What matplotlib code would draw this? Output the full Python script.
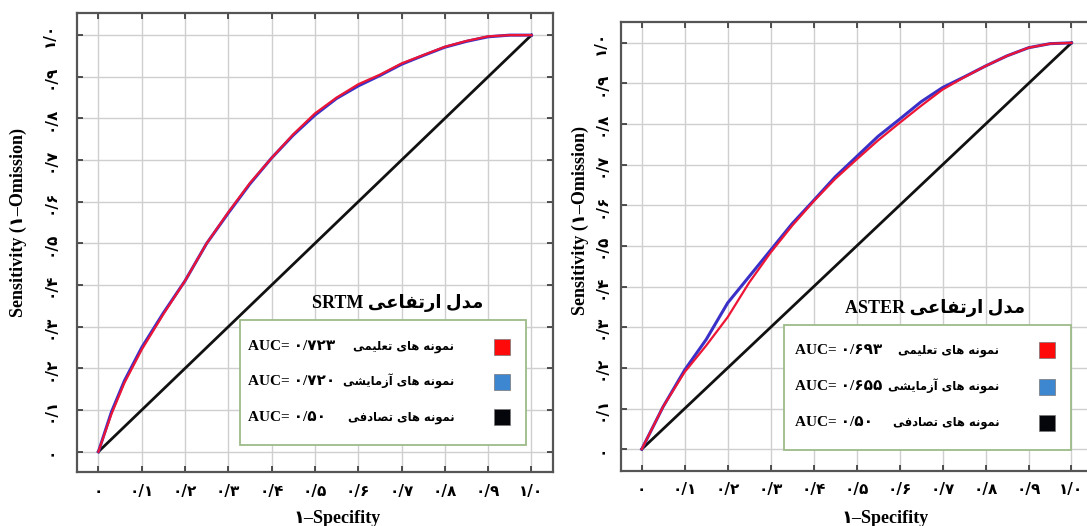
import matplotlib
matplotlib.use('Agg')
import matplotlib.pyplot as plt

# ---------------- data ----------------
fpr_srtm = [0.0, 0.03, 0.06, 0.10, 0.15, 0.20, 0.25, 0.30, 0.35, 0.40, 0.45,
            0.50, 0.55, 0.60, 0.65, 0.70, 0.75, 0.80, 0.85, 0.90, 0.95, 1.0]
tpr_srtm_train = [0.0, 0.09, 0.165, 0.245, 0.33, 0.41, 0.50, 0.575, 0.645, 0.705, 0.762,
                  0.812, 0.85, 0.882, 0.905, 0.932, 0.952, 0.972, 0.986, 0.997, 1.0, 1.0]
tpr_srtm_test = [0.0, 0.095, 0.17, 0.25, 0.333, 0.41, 0.50, 0.573, 0.643, 0.705, 0.76,
                 0.808, 0.848, 0.878, 0.903, 0.93, 0.951, 0.971, 0.985, 0.996, 1.0, 1.0]

fpr_aster = [0.0, 0.05, 0.10, 0.15, 0.20, 0.25, 0.30, 0.35, 0.40, 0.45, 0.50,
             0.55, 0.60, 0.65, 0.70, 0.75, 0.80, 0.85, 0.90, 0.95, 1.0]
tpr_aster_train = [0.0, 0.105, 0.19, 0.255, 0.325, 0.41, 0.484, 0.55, 0.61, 0.665, 0.713,
                   0.76, 0.803, 0.845, 0.885, 0.915, 0.943, 0.968, 0.988, 0.998, 1.0]
tpr_aster_test = [0.0, 0.105, 0.195, 0.27, 0.36, 0.425, 0.49, 0.555, 0.612, 0.67, 0.72,
                  0.77, 0.812, 0.855, 0.89, 0.916, 0.943, 0.968, 0.988, 0.998, 1.0]

random_x = [0.0, 1.0]
random_y = [0.0, 1.0]

tick_values = [0.0, 0.1, 0.2, 0.3, 0.4, 0.5, 0.6, 0.7, 0.8, 0.9, 1.0]
tick_labels = ['۰', '۰/۱', '۰/۲', '۰/۳', '۰/۴', '۰/۵', '۰/۶', '۰/۷', '۰/۸', '۰/۹', '۱/۰']

model_names = ['SRTM', 'ASTER']
title_fa = 'مدل ارتفاعی'
legend_labels = ['نمونه های تعلیمی', 'نمونه های آزمایشی', 'نمونه های تصادفی']
auc_srtm = ['۰/۷۲۳', '۰/۷۲۰', '۰/۵۰']
auc_aster = ['۰/۶۹۳', '۰/۶۵۵', '۰/۵۰']
legend_colors = ['#ff0a0a', '#3d86d0', '#05050c']
xlabel_text = '۱–Specifity'
ylabel_text = 'Sensitivity (۱–Omission)'

# ---------------- Persian shaping (contextual forms + visual order) ----------------
FORMS = {
    'ا': (0xFE8D, 0xFE8E, None, None),
    'آ': (0xFE81, 0xFE82, None, None),
    'د': (0xFEA9, 0xFEAA, None, None),
    'ر': (0xFEAD, 0xFEAE, None, None),
    'ز': (0xFEAF, 0xFEB0, None, None),
    'و': (0xFEED, 0xFEEE, None, None),
    'ب': (0xFE8F, 0xFE90, 0xFE91, 0xFE92),
    'ت': (0xFE95, 0xFE96, 0xFE97, 0xFE98),
    'ش': (0xFEB5, 0xFEB6, 0xFEB7, 0xFEB8),
    'ص': (0xFEB9, 0xFEBA, 0xFEBB, 0xFEBC),
    'ع': (0xFEC9, 0xFECA, 0xFECB, 0xFECC),
    'ف': (0xFED1, 0xFED2, 0xFED3, 0xFED4),
    'ل': (0xFEDD, 0xFEDE, 0xFEDF, 0xFEE0),
    'م': (0xFEE1, 0xFEE2, 0xFEE3, 0xFEE4),
    'ن': (0xFEE5, 0xFEE6, 0xFEE7, 0xFEE8),
    'ه': (0xFEE9, 0xFEEA, 0xFEEB, 0xFEEC),
    'ی': (0xFEEF, 0xFEF0, 0xFEF3, 0xFEF4),
}


def fa(s):
    out = []
    n = len(s)
    for i, ch in enumerate(s):
        f = FORMS.get(ch)
        if f is None:
            out.append(ch)
            continue
        prev = s[i - 1] if i > 0 else ''
        nxt = s[i + 1] if i < n - 1 else ''
        jp = prev in FORMS and FORMS[prev][2] is not None
        jn = nxt in FORMS and f[2] is not None
        if jp and jn:
            c = f[3]
        elif jp:
            c = f[1]
        elif jn:
            c = f[2]
        else:
            c = f[0]
        out.append(chr(c))
    return ''.join(reversed(out))


FAM = ['Liberation Serif', 'DejaVu Sans']
FAM_FA = ['DejaVu Sans']

fig = plt.figure(figsize=(10.87, 5.26), dpi=100)
fig.patch.set_facecolor('white')

panels = [
    dict(rect=[0.0706, 0.1032, 0.4382, 0.872], xlim=(-0.05, 1.05), ylim=(-0.048, 1.053),
         fpr=fpr_srtm, train=tpr_srtm_train, test=tpr_srtm_test, auc=auc_srtm,
         name=model_names[0],
         box=(0.326, 0.016, 0.988 - 0.326, 0.30), title_xy=(0.692, 0.357),
         rows=[0.252, 0.168, 0.083], x_auc=0.345, x_fa=0.822, x_mark=0.932,
         xlab=(0.546, -0.083), ylab=(-0.104, 0.544), ypad=14, xpad=9),
    dict(rect=[0.571, 0.1051, 0.4345, 0.8536], xlim=(-0.049, 1.05), ylim=(-0.053, 1.052),
         fpr=fpr_aster, train=tpr_aster_train, test=tpr_aster_test, auc=auc_aster,
         name=model_names[1],
         box=(0.332, -0.002, 1.0 - 0.332, 0.308), title_xy=(0.682, 0.347),
         rows=[0.244, 0.154, 0.065], x_auc=0.357, x_fa=0.832, x_mark=0.944,
         xlab=(0.56, -0.0875), ylab=(-0.067, 0.558), ypad=9, xpad=8),
]

for p in panels:
    ax = fig.add_axes(p['rect'])
    ax.set_xlim(*p['xlim'])
    ax.set_ylim(*p['ylim'])
    ax.set_xticks(tick_values)
    ax.set_yticks(tick_values)
    ax.set_xticklabels(tick_labels, family=FAM_FA, fontweight='bold', fontsize=11)
    ax.set_yticklabels(tick_labels, family=FAM_FA, fontweight='bold', fontsize=11,
                       rotation=90, va='center')
    ax.grid(True, color='#cfcfcf', lw=1.0)
    ax.set_axisbelow(True)
    ax.tick_params(direction='in', length=4, width=1.2, top=True, right=True,
                   color='#333333')
    ax.tick_params(axis='x', pad=p['xpad'])
    ax.tick_params(axis='y', pad=p['ypad'])
    for sp in ax.spines.values():
        sp.set_color('#555555')
        sp.set_linewidth(1.6)

    ax.plot(random_x, random_y, color='#111111', lw=2.0, zorder=3)
    ax.plot(p['fpr'], p['test'], color='#3a30c8', lw=2.2, zorder=4)
    ax.plot(p['fpr'], p['train'], color='#ec1535', lw=1.6, zorder=5)

    ax.set_xlabel(xlabel_text, family=FAM, fontweight='bold', fontsize=13)
    ax.set_ylabel(ylabel_text, family=FAM, fontweight='bold', fontsize=13)
    ax.xaxis.set_label_coords(*p['xlab'])
    ax.yaxis.set_label_coords(*p['ylab'])

    # legend block
    bx, by, bw, bh = p['box']
    ax.add_patch(plt.Rectangle((bx, by), bw, bh, facecolor='white',
                               edgecolor='#9dbb88', lw=1.3, zorder=6, clip_on=False))
    ax.text(p['title_xy'][0], p['title_xy'][1], p['name'] + ' ' + fa(title_fa),
            family=FAM, fontweight='bold', fontsize=13, ha='center', va='center',
            zorder=7)
    for i, yy in enumerate(p['rows']):
        ax.text(p['x_auc'], yy, 'AUC= ' + p['auc'][i], family=FAM, fontweight='bold',
                fontsize=11, ha='left', va='center', zorder=7)
        ax.text(p['x_fa'], yy, fa(legend_labels[i]), family=FAM_FA, fontweight='bold',
                fontsize=8.3, ha='right', va='center', zorder=7)
        ax.plot([p['x_mark']], [yy], marker='s', markersize=12, color=legend_colors[i],
                markeredgecolor='#777777', markeredgewidth=0.5, zorder=7,
                linestyle='none')

fig.savefig('out.png', dpi=100, facecolor='white')
